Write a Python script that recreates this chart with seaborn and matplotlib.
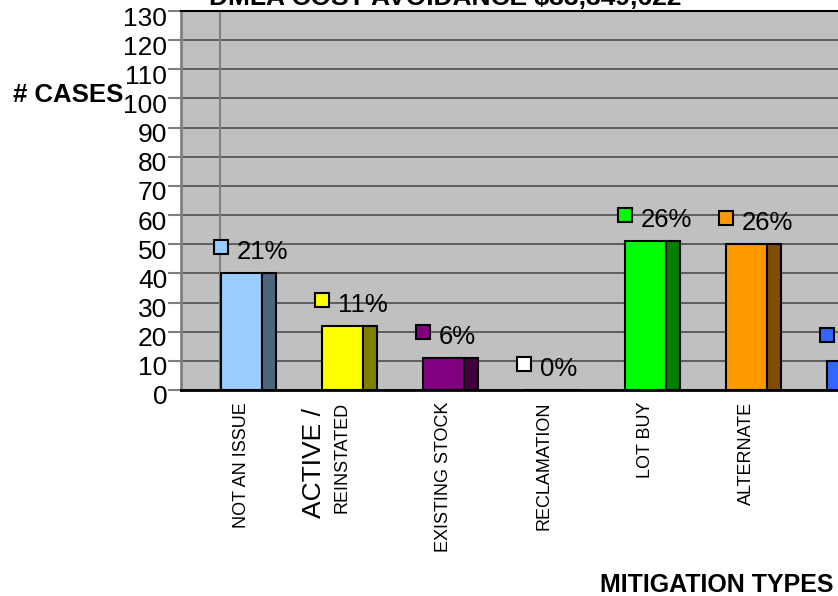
import numpy as np
import pandas as pd
import matplotlib
matplotlib.use("Agg")
import matplotlib.pyplot as plt
import matplotlib.transforms as mtransforms
import seaborn as sns

categories = ["NOT AN ISSUE", "REINSTATED", "EXISTING STOCK", "RECLAMATION",
              "LOT BUY", "ALTERNATE", "OTHER"]
cases = [40, 22, 11, 0, 51, 50, 10]
percent_labels = ["21%", "11%", "6%", "0%", "26%", "26%", "5%"]
front_colors = ["#99ccff", "#ffff00", "#800080", "#ffffff", "#00ff00", "#ff9900", "#3366ff"]
side_colors = ["#4d6680", "#808000", "#400040", "#808080", "#008000", "#7f4c00", "#1a3380"]
y_ticks = list(range(0, 140, 10))
title = "DMLA COST AVOIDANCE $33,349,622"
n_shown = 6  # the last category sits past the right edge of the picture

df = pd.DataFrame({"category": categories, "cases": cases})

plt.rcParams['font.family'] = ['Liberation Sans', 'DejaVu Sans']

fig = plt.figure(figsize=(8.38, 5.96), dpi=100)
ax = fig.add_axes([181 / 838, 206 / 596, 869 / 838, 379 / 596])
ax.set_facecolor('#c0c0c0')

# front faces
sns.barplot(data=df, x='category', y='cases', hue='category', palette=front_colors,
            saturation=1, width=0.406, edgecolor='black', linewidth=1.5,
            legend=False, ax=ax, zorder=3)
# darker side faces for the 3d look
x = np.arange(len(categories))
ax.bar(x + 0.203 + 0.069, cases, width=0.139, color=side_colors,
       edgecolor='black', linewidth=1.5, zorder=3)

ax.axvline(-0.213, color='#808080', lw=1.5, zorder=2)

ax.set_xlim(-0.599, -0.599 + 869 / 101)
ax.set_ylim(0, 130)
ax.set_yticks(y_ticks)
ax.set_yticklabels([str(t) for t in y_ticks], fontsize=19)
ax.yaxis.grid(True, color='#4d4d4d', lw=1.2)
ax.set_axisbelow(True)
ax.tick_params(axis='y', length=9.4, width=1.5, color='#808080', pad=0.5, left=True)
shift = mtransforms.ScaledTranslation(0, -5 / 100, fig.dpi_scale_trans)
for lbl in ax.get_yticklabels():
    lbl.set_transform(lbl.get_transform() + shift)

ax.set_xticks(x[:n_shown])
ax.set_xticklabels(categories[:n_shown], rotation=90, fontsize=13, va='top', ha='center')
ax.tick_params(axis='x', length=0, pad=8.6)
ax.set_xlabel('')
ax.set_ylabel('')

ax.spines['left'].set_color('#808080')
ax.spines['left'].set_linewidth(2)
ax.spines['bottom'].set_color('black')
ax.spines['bottom'].set_linewidth(2)
ax.spines['top'].set_color('black')
ax.spines['top'].set_linewidth(1.5)
ax.spines['right'].set_visible(False)

# extra larger word under the second category
ax.annotate("ACTIVE /", xy=(0.713, 0), xycoords=('data', 'axes fraction'),
            xytext=(0, -18), textcoords='offset pixels', rotation=90,
            va='top', ha='center', fontsize=19)

# data labels: coloured key square + percentage
sq_shift = ax.transData + mtransforms.ScaledTranslation(0, 26 / 100, fig.dpi_scale_trans)
for i, (v, pct) in enumerate(zip(cases, percent_labels)):
    ax.plot([i - 0.203], [v], marker='s', markersize=10.5, markerfacecolor=front_colors[i],
            markeredgecolor='black', markeredgewidth=1.5, transform=sq_shift,
            zorder=4, clip_on=False)
    if i < n_shown:
        ax.annotate(pct, xy=(i - 0.203, v), xytext=(16, 21), textcoords='offset pixels',
                    ha='left', va='center', fontsize=18.5, zorder=4)

fig.text(68 / 838, 1 - 95 / 596, "# CASES", ha='center', va='center',
         fontsize=18.5, fontweight='bold')
fig.text(833 / 838, 1 - 585 / 596, "MITIGATION TYPES", ha='right', va='center',
         fontsize=18, fontweight='bold')
fig.text(445 / 838, 1 - 5 / 596, title, ha='center', va='baseline',
         fontsize=19, fontweight='bold')

fig.savefig('out.png', dpi=100)
